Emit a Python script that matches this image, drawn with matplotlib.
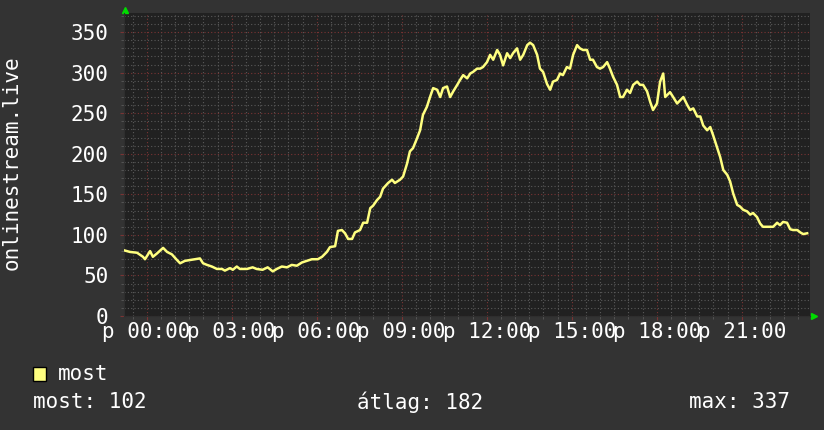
import matplotlib
matplotlib.use("Agg")
import matplotlib.pyplot as plt
from matplotlib.patches import Rectangle
from matplotlib.ticker import MultipleLocator

# hours relative to midnight (negative = previous evening)
hours = [-0.80, -0.59, -0.34, -0.13, -0.06, 0.12, 0.22, 0.36, 0.58, 0.72,
         0.89, 1.07, 1.18, 1.35, 1.53, 1.70, 1.88, 1.99, 2.13, 2.30,
         2.48, 2.66, 2.76, 2.94, 3.04, 3.18, 3.29, 3.54, 3.74, 3.88,
         4.09, 4.27, 4.45, 4.59, 4.77, 4.95, 5.12, 5.30, 5.48, 5.66,
         5.83, 6.04, 6.19, 6.36, 6.47, 6.65, 6.75, 6.89, 7.00, 7.11,
         7.25, 7.35, 7.53, 7.64, 7.78, 7.89, 7.99, 8.13, 8.24, 8.34,
         8.52, 8.66, 8.76, 8.94, 9.05, 9.19, 9.29, 9.40, 9.54, 9.65,
         9.75, 9.89, 10.00, 10.11, 10.25, 10.36, 10.46, 10.60, 10.71, 10.82,
         10.96, 11.06, 11.17, 11.31, 11.42, 11.52, 11.66, 11.77, 11.87, 12.01,
         12.12, 12.23, 12.37, 12.47, 12.58, 12.72, 12.83, 12.93, 13.07, 13.18,
         13.29, 13.43, 13.53, 13.64, 13.78, 13.88, 13.99, 14.13, 14.24, 14.34,
         14.48, 14.59, 14.69, 14.83, 14.94, 15.05, 15.19, 15.29, 15.40, 15.54,
         15.65, 15.75, 15.89, 16.00, 16.11, 16.25, 16.35, 16.46, 16.60, 16.71,
         16.81, 16.95, 17.06, 17.17, 17.31, 17.41, 17.52, 17.66, 17.77, 17.87,
         18.01, 18.12, 18.23, 18.30, 18.47, 18.58, 18.72, 18.83, 18.94, 19.08,
         19.18, 19.29, 19.43, 19.54, 19.64, 19.78, 19.89, 19.99, 20.14, 20.24,
         20.35, 20.49, 20.59, 20.70, 20.84, 20.94, 21.05, 21.19, 21.30, 21.40,
         21.54, 21.65, 21.75, 21.89, 22.00, 22.11, 22.25, 22.35, 22.46, 22.60,
         22.71, 22.81, 22.96, 23.07, 23.17, 23.31]

listeners = [81, 79, 78, 73, 70, 80, 73, 77, 84, 79,
             76, 69, 65, 68, 69, 70, 71, 65, 63, 61,
             58, 58, 56, 59, 57, 61, 58, 58, 60, 58,
             57, 60, 55, 58, 61, 60, 63, 62, 66, 68,
             70, 70, 73, 79, 85, 86, 105, 106, 102, 95,
             95, 103, 106, 115, 115, 133, 136, 143, 147, 157,
             164, 168, 164, 168, 172, 188, 203, 207, 219, 229,
             248, 258, 270, 281, 279, 270, 281, 283, 270, 277,
             285, 291, 297, 293, 299, 301, 305, 305, 307, 313,
             322, 316, 328, 322, 309, 324, 318, 324, 330, 316,
             322, 334, 337, 334, 322, 305, 301, 286, 279, 289,
             291, 299, 297, 307, 305, 322, 334, 330, 328, 328,
             316, 316, 307, 305, 307, 313, 305, 295, 285, 270,
             270, 279, 275, 285, 289, 285, 285, 277, 264, 254,
             262, 289, 299, 270, 276, 270, 262, 266, 270, 260,
             254, 256, 246, 246, 235, 229, 233, 223, 207, 196,
             180, 174, 166, 151, 137, 135, 131, 129, 125, 127,
             122, 114, 110, 110, 110, 110, 115, 112, 116, 115,
             107, 106, 106, 103, 101, 102]

x_ticks = [0, 3, 6, 9, 12, 15, 18, 21]
x_labels = ["p 00:00", "p 03:00", "p 06:00", "p 09:00",
            "p 12:00", "p 15:00", "p 18:00", "p 21:00"]
y_ticks = [0, 50, 100, 150, 200, 250, 300, 350]

series_name = "most"
stat_texts = ["most: 102", "átlag: 182", "max: 337"]
axis_title = "onlinestream.live"

W, H = 824, 430
fig_bg = "#333333"
plot_bg = "#212121"
line_col = "#ffff80"
font = "DejaVu Sans Mono"
fs = 15

plt.rcParams["font.family"] = [font]

fig = plt.figure(figsize=(W / 100, H / 100), dpi=100, facecolor=fig_bg)
ax = fig.add_axes([124 / W, 114 / H, 686 / W, 303 / H])
ax.set_facecolor(plot_bg)

ax.set_xlim(-0.80, 23.41)
ax.set_ylim(0, 373.6)

# grid: minor grey dotted, major red dotted
ax.xaxis.set_minor_locator(MultipleLocator(0.5))
ax.yaxis.set_minor_locator(MultipleLocator(10))
ax.grid(which="minor", color="#5a5a5a", linestyle=(0, (1, 2)), linewidth=0.8)
ax.grid(which="major", color="#7a3434", linestyle=(0, (1, 2)), linewidth=0.8)
ax.set_axisbelow(True)

ax.plot(hours, listeners, color=line_col, linewidth=1.8, zorder=3)

ax.set_xticks(x_ticks)
ax.set_xticklabels(x_labels)
ax.set_yticks(y_ticks)

ax.tick_params(axis="both", which="major", colors="#7a3434", length=3,
               labelcolor="white", labelsize=fs)
ax.tick_params(axis="both", which="minor", colors="#5a5a5a", length=2)
ax.tick_params(axis="y", pad=8)
ax.tick_params(axis="x", pad=1)

for side in ["top", "right"]:
    ax.spines[side].set_visible(False)
ax.spines["left"].set_color("#2e2e2e")
ax.spines["bottom"].set_color("#2e2e2e")

# green arrow heads at axis ends
ax.plot([0.0015], [1.01], marker="^", color="#00dd00", markersize=5,
        transform=ax.transAxes, clip_on=False)
ax.plot([1.006], [0.0], marker=">", color="#00dd00", markersize=5,
        transform=ax.transAxes, clip_on=False)

fig.text(12 / W, 1 - 163 / H, axis_title, rotation=90, color="white",
         fontsize=fs, ha="center", va="center")

# legend
fig.patches.append(Rectangle((33 / W, 1 - 381 / H), 13 / W, 14 / H,
                             transform=fig.transFigure, facecolor=line_col,
                             edgecolor="black", linewidth=1))
fig.text(58 / W, 1 - 374 / H, series_name, color="white", fontsize=fs,
         ha="left", va="center")
fig.text(33 / W, 1 - 402 / H, stat_texts[0], color="white", fontsize=fs,
         ha="left", va="center")
fig.text(420 / W, 1 - 402 / H, stat_texts[1], color="white", fontsize=fs,
         ha="center", va="center")
fig.text(790 / W, 1 - 402 / H, stat_texts[2], color="white", fontsize=fs,
         ha="right", va="center")

fig.savefig("out.png", dpi=100, facecolor=fig_bg)
